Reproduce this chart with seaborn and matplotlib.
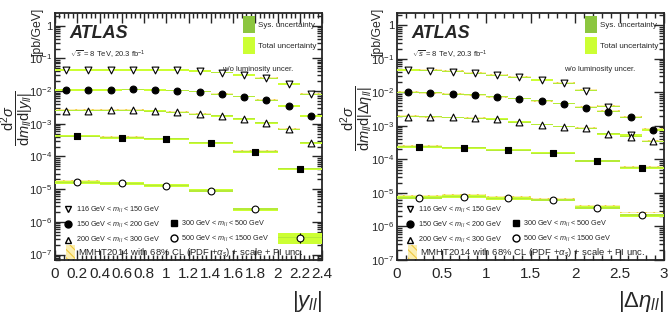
import numpy as np
import pandas as pd
import seaborn as sns
import matplotlib.pyplot as plt
from matplotlib.patches import Patch
from matplotlib.lines import Line2D
from matplotlib.ticker import MultipleLocator, LogLocator, FuncFormatter, NullFormatter

# mass ranges
mass_labels = [r"116 GeV < $m_{ll}$ < 150 GeV", r"150 GeV < $m_{ll}$ < 200 GeV",
               r"200 GeV < $m_{ll}$ < 300 GeV", r"300 GeV < $m_{ll}$ < 500 GeV",
               r"500 GeV < $m_{ll}$ < 1500 GeV"]

# |y_ll| binning
y_edges_fine = [0, 0.2, 0.4, 0.6, 0.8, 1.0, 1.2, 1.4, 1.6, 1.8, 2.0, 2.2, 2.4]
y_edges_coarse = [0, 0.4, 0.8, 1.2, 1.6, 2.0, 2.4]

y_m1 = [0.044, 0.044, 0.044, 0.044, 0.044, 0.044, 0.041, 0.0366, 0.031, 0.0246, 0.0165, 0.0080]
y_m2 = [0.0108, 0.0108, 0.0108, 0.0114, 0.0108, 0.0103, 0.0096, 0.0081, 0.0067, 0.0053, 0.0035, 0.00173]
y_m3 = [0.0025, 0.0025, 0.0026, 0.0026, 0.00245, 0.00225, 0.00195, 0.00174, 0.00141, 0.00107, 0.00068, 0.00026]
y_m4 = [4.1e-4, 3.7e-4, 3.45e-4, 2.6e-4, 1.4e-4, 4.2e-5]
y_m5 = [1.6e-5, 1.5e-5, 1.28e-5, 8.9e-6, 2.46e-6, 3.3e-7]

y_th1 = [0.045, 0.045, 0.045, 0.045, 0.045, 0.044, 0.042, 0.037, 0.031, 0.025, 0.0168, 0.0082]
y_th2 = [0.0110, 0.0110, 0.0110, 0.0112, 0.0109, 0.0104, 0.0097, 0.0082, 0.0068, 0.0053, 0.0036, 0.00178]
y_th3 = [0.0026, 0.0026, 0.0026, 0.0026, 0.0025, 0.0023, 0.0020, 0.00176, 0.00143, 0.00109, 0.00070, 0.00027]
y_th4 = [4.3e-4, 3.9e-4, 3.5e-4, 2.7e-4, 1.45e-4, 4.3e-5]
y_th5 = [1.8e-5, 1.6e-5, 1.32e-5, 9.3e-6, 2.55e-6, 3.2e-7]

# |delta eta_ll| binning
d_edges_fine = [0, 0.25, 0.5, 0.75, 1.0, 1.25, 1.5, 1.75, 2.0, 2.25, 2.5, 2.75, 3.0]
d_edges_coarse = [0, 0.5, 1.0, 1.5, 2.0, 2.5, 3.0]

d_m1 = [0.047, 0.045, 0.042, 0.037, 0.033, 0.028, 0.0235, 0.0187, 0.0113, 0.0038, 0.00054]
d_m2 = [0.0102, 0.0097, 0.0089, 0.0085, 0.0074, 0.0065, 0.0056, 0.0046, 0.0035, 0.0027, 0.0018, 0.00076]
d_m3 = [0.0019, 0.0019, 0.0018, 0.0017, 0.0016, 0.0013, 0.0011, 0.00095, 0.00085, 0.00058, 0.00048, 0.00035]
d_m4 = [2.4e-4, 2.25e-4, 1.9e-4, 1.55e-4, 9e-5, 5.7e-5]
d_m5 = [7.2e-6, 7.8e-6, 6.9e-6, 6.2e-6, 3.6e-6, 2.2e-6]

d_th1 = [0.048, 0.046, 0.043, 0.038, 0.034, 0.029, 0.024, 0.019, 0.0116, 0.0040, 0.00056]
d_th2 = [0.0104, 0.0099, 0.0091, 0.0086, 0.0075, 0.0066, 0.0057, 0.0047, 0.0036, 0.0028, 0.0019, 0.00080]
d_th3 = [0.0020, 0.0019, 0.0018, 0.0017, 0.0016, 0.0013, 0.0011, 0.00097, 0.00087, 0.00060, 0.00050, 0.00037]
d_th4 = [2.5e-4, 2.3e-4, 1.95e-4, 1.6e-4, 9.3e-5, 5.9e-5]
d_th5 = [8.2e-6, 8.6e-6, 7.6e-6, 6.8e-6, 4.1e-6, 2.6e-6]

# relative uncertainties (total, sys) per mass range
rel_tot = [0.04, 0.04, 0.05, 0.07, 0.10]
rel_sys = [0.03, 0.03, 0.035, 0.04, 0.05]
rel_tot_last_y = 0.35
rel_th = 0.06

sys_color = "#8cc63f"
tot_color = "#ccff33"
th_color = "#f0c83c"

markers = ["v", "o", "^", "s", "o"]
faces = ["white", "black", "white", "black", "white"]
sizes = [24, 24, 24, 18, 24]

sns.set_style("ticks")
plt.rcParams["font.family"] = ["Liberation Sans", "DejaVu Sans"]
plt.rcParams["mathtext.fontset"] = "custom"
plt.rcParams["mathtext.rm"] = "Liberation Sans"
plt.rcParams["mathtext.it"] = "Liberation Sans:italic"
plt.rcParams["mathtext.bf"] = "Liberation Sans:bold"
plt.rcParams["hatch.color"] = th_color
plt.rcParams["hatch.linewidth"] = 0.8


def draw_series(ax, edges, vals, theory, i, last_big=False):
    edges = np.array(edges[:len(vals) + 1])
    vals = np.array(vals)
    theory = np.array(theory)
    centers = 0.5 * (edges[:-1] + edges[1:])
    widths = np.diff(edges)
    tot = np.full(len(vals), rel_tot[i])
    if last_big:
        tot[-1] = rel_tot_last_y
    sys_ = np.full(len(vals), rel_sys[i])
    # theory band
    ax.bar(centers, theory * 2 * rel_th, width=widths, bottom=theory * (1 - rel_th),
           facecolor="#fbeeb0", edgecolor=th_color, hatch="\\\\\\\\", linewidth=0, zorder=2)
    # data bands
    ax.bar(centers, vals * 2 * tot, width=widths, bottom=vals * (1 - tot),
           color=tot_color, linewidth=0, zorder=3)
    ax.bar(centers, vals * 2 * sys_, width=widths, bottom=vals * (1 - sys_),
           color=sys_color, linewidth=0, alpha=0.35, zorder=3)
    df = pd.DataFrame({"x": centers, "y": vals})
    if last_big:
        ax.errorbar(centers[-1:], vals[-1:], yerr=[vals[-1:] * 0.3, vals[-1:] * 0.35],
                    fmt="none", ecolor="black", elinewidth=0.8, zorder=4)
    sns.scatterplot(data=df, x="x", y="y", ax=ax, marker=markers[i], s=sizes[i],
                    facecolor=faces[i], edgecolor="black", linewidth=0.8, zorder=5, legend=False)


def log_fmt(v, pos):
    e = int(round(np.log10(v)))
    if e == 0:
        return "1"
    return r"$10^{%d}$" % e


fig = plt.figure(figsize=(6.68, 3.23), dpi=100)
ax1 = fig.add_axes([55 / 668, 63 / 323, 267 / 668, 247.3 / 323])
ax2 = fig.add_axes([397 / 668, 63 / 323, 267 / 668, 247.3 / 323])

for i, (v, t) in enumerate(zip([y_m1, y_m2, y_m3], [y_th1, y_th2, y_th3])):
    draw_series(ax1, y_edges_fine, v, t, i)
draw_series(ax1, y_edges_coarse, y_m4, y_th4, 3)
draw_series(ax1, y_edges_coarse, y_m5, y_th5, 4, last_big=True)

for i, (v, t) in enumerate(zip([d_m1, d_m2, d_m3], [d_th1, d_th2, d_th3])):
    draw_series(ax2, d_edges_fine, v, t, i)
draw_series(ax2, d_edges_coarse, d_m4, d_th4, 3)
draw_series(ax2, d_edges_coarse, d_m5, d_th5, 4)

ax1.set_xlim(0, 2.4)
ax1.set_ylim(6.8e-8, 2.5)
ax1.xaxis.set_major_locator(MultipleLocator(0.2))
ax1.xaxis.set_minor_locator(MultipleLocator(0.04))
ax1.xaxis.set_major_formatter(FuncFormatter(lambda v, p: ("%g" % round(v, 2))))
ax2.set_xlim(0, 3)
ax2.set_ylim(1e-7, 2.4)
ax2.xaxis.set_major_locator(MultipleLocator(0.5))
ax2.xaxis.set_minor_locator(MultipleLocator(0.1))
ax2.xaxis.set_major_formatter(FuncFormatter(lambda v, p: ("%g" % round(v, 2))))

xlabels = [r"$|y_{ll}|$", r"$|\Delta\eta_{ll}|$"]
ylabels = [r"$\dfrac{\mathrm{d}^2\sigma}{\mathrm{d}m_{ll}\mathrm{d}|y_{ll}|}$",
           r"$\dfrac{\mathrm{d}^2\sigma}{\mathrm{d}m_{ll}\mathrm{d}|\Delta\eta_{ll}|}$"]
ylabel_x = [17.5 / 668, 357.5 / 668]
unit_x = [37 / 668, 377 / 668]

for ax, xl, yl, lx, ux in zip([ax1, ax2], xlabels, ylabels, ylabel_x, unit_x):
    ax.set_yscale("log")
    ax.yaxis.set_major_locator(LogLocator(base=10, numticks=20))
    ax.yaxis.set_minor_locator(LogLocator(base=10, subs=np.arange(2, 10), numticks=20))
    ax.yaxis.set_major_formatter(FuncFormatter(log_fmt))
    ax.yaxis.set_minor_formatter(NullFormatter())
    ax.tick_params(which="both", direction="in", top=True, right=True, width=1.0)
    ax.tick_params(which="major", length=7)
    ax.tick_params(which="minor", length=3.5)
    ax.tick_params(axis="x", labelsize=11, pad=5)
    ax.tick_params(axis="y", labelsize=8, pad=2)
    for s in ax.spines.values():
        s.set_linewidth(1.3)
    ax.set_xlabel(xl, fontsize=16, loc="right", labelpad=6)
    ax.set_ylabel("")
    fig.text(lx, (323 - 118) / 323, yl, rotation=90, fontsize=10.5, ha="center", va="center")
    fig.text(ux, (323 - 32) / 323, "[pb/GeV]", rotation=90, fontsize=8.8, ha="center", va="center")

    ax.text(0.055, 0.915, "ATLAS", transform=ax.transAxes, fontsize=13,
            fontweight="bold", fontstyle="italic", va="center")
    ax.text(0.055, 0.83, r"$\sqrt{s}$ = 8 TeV, 20.3 fb$^{-1}$", transform=ax.transAxes,
            fontsize=5.5, va="center")
    ax.text(0.76, 0.77, "w/o luminosity uncer.", transform=ax.transAxes,
            fontsize=5.5, ha="center", va="center")

    unc_handles = [Patch(facecolor=sys_color, edgecolor="none"),
                   Patch(facecolor=tot_color, edgecolor="none")]
    leg1 = ax.legend(unc_handles, ["Sys. uncertainty", "Total uncertainty"],
                     loc="upper right", bbox_to_anchor=(1.0, 1.01), frameon=False,
                     fontsize=5.8, handlelength=1.5, handleheight=2.8,
                     labelspacing=0.55, handletextpad=0.4, borderaxespad=0.3)
    ax.add_artist(leg1)

    mh = [Line2D([], [], ls="none", marker=markers[k], markerfacecolor=faces[k],
                 markeredgecolor="black", markersize=5) for k in range(5)]
    blank = Line2D([], [], ls="none")
    leg2 = ax.legend([mh[0], mh[1], mh[2], blank, mh[3], mh[4]],
                     [mass_labels[0], mass_labels[1], mass_labels[2], " ", mass_labels[3], mass_labels[4]],
                     ncol=2, loc="lower left", bbox_to_anchor=(0.02, 0.042), frameon=False,
                     fontsize=5.2, handlelength=1.0, handletextpad=0.5, columnspacing=1.5,
                     labelspacing=0.7, borderaxespad=0.2)
    ax.add_artist(leg2)

    th_handle = Patch(facecolor="#fbeeb0", edgecolor=th_color, hatch="\\\\\\\\", linewidth=0)
    ax.legend([th_handle], [r"MMHT2014 with 68% CL (PDF +$\alpha_{s}$) + scale + PI unc."],
              loc="lower left", bbox_to_anchor=(0.02, -0.02), frameon=False, fontsize=6.8,
              handlelength=1.0, handleheight=2.0, handletextpad=0.3, borderaxespad=0.2)

fig.savefig("out.png", dpi=100)
